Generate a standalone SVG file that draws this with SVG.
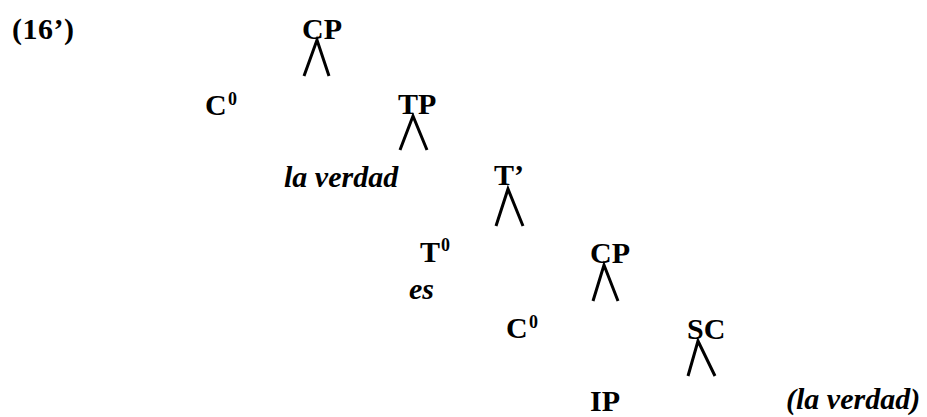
<svg xmlns="http://www.w3.org/2000/svg" width="927" height="417" viewBox="0 0 927 417">
<style>
.lbl{font-family:"Liberation Serif","Times New Roman",serif;font-size:30px;font-weight:bold;fill:#000}
.it{font-family:"Liberation Serif","Times New Roman",serif;font-size:30px;font-style:italic;font-weight:bold;fill:#000}
.sup{font-family:"Liberation Serif","Times New Roman",serif;font-size:18px;font-weight:bold;fill:#000}
.num{font-family:"Liberation Serif","Times New Roman",serif;font-size:30px;font-weight:bold;fill:#000}
.br{fill:none;stroke:#000;stroke-width:3;stroke-linecap:butt;stroke-linejoin:miter}
</style>
<rect width="927" height="417" fill="#fff"/>
<g id="ex-number"><text class="num" x="12" y="39" letter-spacing="0.5">(16’)</text></g>
<g id="CP1"><text class="lbl" x="302" y="39">CP</text></g>
<g id="C0-1"><text class="lbl" x="205" y="115">C</text><text class="sup" x="228" y="105">0</text></g>
<g id="TP"><text class="lbl" x="398" y="114">TP</text></g>
<g id="spec-la-verdad"><text class="it" x="284" y="187">la verdad</text></g>
<g id="Tbar"><text class="lbl" x="494" y="185">T’</text></g>
<g id="T0"><text class="lbl" x="420" y="262">T</text><text class="sup" x="441" y="251">0</text></g>
<g id="es"><text class="it" x="409" y="299">es</text></g>
<g id="CP2"><text class="lbl" x="590" y="263">CP</text></g>
<g id="C0-2"><text class="lbl" x="506" y="338">C</text><text class="sup" x="529" y="328">0</text></g>
<g id="SC"><text class="lbl" x="687" y="339">SC</text></g>
<g id="IP"><text class="lbl" x="590" y="411">IP</text></g>
<g id="trace-la-verdad"><text class="it" x="786" y="409">(la verdad)</text></g>
<g id="connectors">
<path class="br" d="M304,76 L317,40 L329,76"/>
<path class="br" d="M400,150 L413,116 L427,150"/>
<path class="br" d="M496,226 L508,189 L523,226"/>
<path class="br" d="M593,301 L604,265 L618,301"/>
<path class="br" d="M688,376 L698,341 L715,376"/>
</g>
</svg>
